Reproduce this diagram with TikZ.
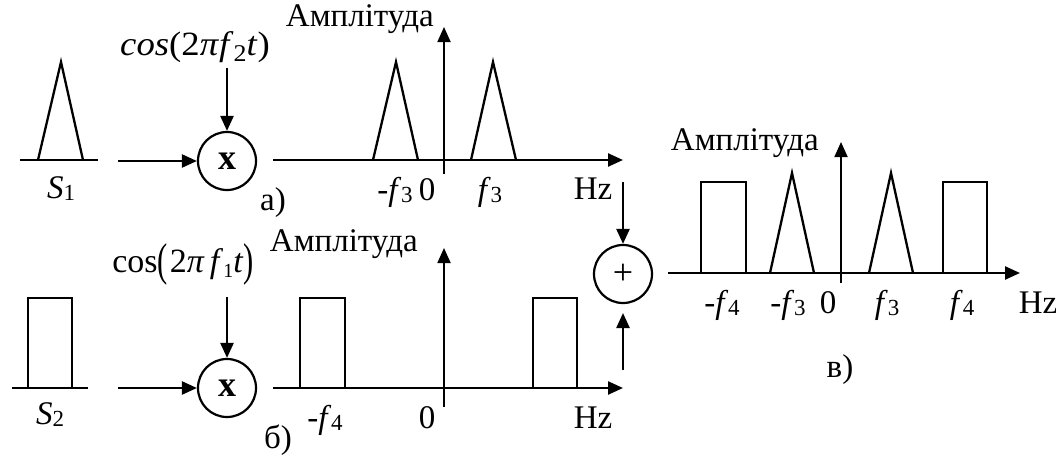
\documentclass[tikz,border=0pt]{standalone}
\usepackage{fontspec}
\setmainfont{Liberation Serif}
\usetikzlibrary{arrows.meta}
\newcommand{\fsub}[2]{\textit{#1}\raisebox{-2pt}{\fontsize{23}{23}\selectfont #2}}
\newcommand{\tallpar}[1]{\raisebox{-3pt}{\scalebox{0.9}[1.35]{#1}}}
\begin{document}
\begin{tikzpicture}[x=1pt,y=-1pt,
  vaxis/.style={line width=1.8pt},
  arr/.style={line width=2.4pt,-{Triangle[length=15pt,width=13pt]}},
  baseln/.style={line width=1.1pt},
  sig/.style={line width=2.3pt},
  op/.style={draw,circle,line width=2.2pt,minimum size=58pt,inner sep=0pt,font=\fontsize{36}{36}\selectfont},
  lbl/.style={inner sep=0pt,font=\fontsize{33}{33}\selectfont},
 ]
\useasboundingbox (0,0) rectangle (1056,455);

% ---------------- row a ----------------
\draw[baseln] (20,160) -- (98,160);
\draw[sig] (38,160) -- (61,62) -- (83,160);
\node[lbl,anchor=base] (s1) at (61,198) {\fsub{S}{1}};
\node[op] (m1) at (227,161) {\bfseries x};
\coordinate (in1) at (118,161);
\draw[arr] (in1) -- (m1.west);
\node[lbl,anchor=base,font=\fontsize{34}{34}\selectfont] (c1) at (195,55) {\scalebox{1.08}[1]{\textit{cos}(2\textit{π\kern1pt f}\raisebox{-6pt}{\fontsize{24}{24}\selectfont 2}\textit{t})}};
\coordinate (c1a) at (227,68);
\draw[arr] (c1a) -- (m1.north);
\node[lbl,anchor=base] (la) at (273,210) {а)};
\coordinate (a0) at (273,160);
\coordinate (a1) at (623,160);
\draw[arr] (a0) -- (a1);
\coordinate (av0) at (444,174);
\coordinate (av1) at (444,27);
\draw[vaxis,-{Triangle[length=15pt,width=13pt]}] (av0) -- (av1);
\node[lbl,anchor=base east] (ampa) at (434,27) {Амплітуда};
\draw[sig] (373,160) -- (396,62) -- (418,160);
\draw[sig] (471,160) -- (493,62) -- (516,160);
\node[lbl,anchor=base] (fa1) at (395,200) {-\fsub{f}{3}};
\node[lbl,anchor=base] (fa2) at (427,200) {0};
\node[lbl,anchor=base] (fa3) at (490,200) {\fsub{f}{3}};
\node[lbl,anchor=base] (fa4) at (593,199) {Hz};

% ---------------- row b ----------------
\draw[baseln] (12,388) -- (88,388);
\draw[sig] (28,388) -- (28,298) -- (72,298) -- (72,388);
\node[lbl,anchor=base] (s2) at (50,424) {\fsub{S}{2}};
\node[op] (m2) at (227,388) {\bfseries x};
\coordinate (in2) at (118,388);
\draw[arr] (in2) -- (m2.west);
\node[lbl,anchor=base,font=\fontsize{34}{34}\selectfont] (c2) at (183,272) {cos\tallpar{(}\kern2pt2\textit{π\kern6pt f}\raisebox{-5pt}{\fontsize{20}{20}\selectfont 1}\textit{t}\tallpar{)}};
\coordinate (c2a) at (227,297);
\draw[arr] (c2a) -- (m2.north);
\node[lbl,anchor=base] (lb) at (278,448) {б)};
\coordinate (b0) at (273,388);
\coordinate (b1) at (623,388);
\draw[arr] (b0) -- (b1);
\coordinate (bv0) at (444,407);
\coordinate (bv1) at (444,248);
\draw[vaxis,-{Triangle[length=15pt,width=13pt]}] (bv0) -- (bv1);
\node[lbl,anchor=base east] (ampb) at (418,251) {Амплітуда};
\draw[sig] (300,388) -- (300,298) -- (345,298) -- (345,388);
\draw[sig] (533,388) -- (533,298) -- (577,298) -- (577,388);
\node[lbl,anchor=base] (fb1) at (325,428) {-\fsub{f}{4}};
\node[lbl,anchor=base] (fb2) at (427,428) {0};
\node[lbl,anchor=base] (fb3) at (593,428) {Hz};

% ---------------- sum ----------------
\node[op] (p) at (623,274) {+};
\coordinate (pin1) at (623,182);
\draw[arr] (pin1) -- (p.north);
\coordinate (pin2) at (623,370);
\coordinate (pin2t) at (623,313);
\draw[arr] (pin2) -- (pin2t);

% ---------------- row c ----------------
\coordinate (c0) at (668,273);
\coordinate (c1e) at (1020,273);
\draw[arr] (c0) -- (c1e);
\coordinate (cv0) at (841,283);
\coordinate (cv1) at (841,142);
\draw[vaxis,-{Triangle[length=15pt,width=13pt]}] (cv0) -- (cv1);
\node[lbl,anchor=base east] (ampc) at (819,150) {Амплітуда};
\draw[sig] (701,273) -- (701,182) -- (746,182) -- (746,273);
\draw[sig] (770,273) -- (792,173) -- (814,273);
\draw[sig] (869,273) -- (891,173) -- (913,273);
\draw[sig] (943,273) -- (943,182) -- (987,182) -- (987,273);
\node[lbl,anchor=base] (fc1) at (722,313) {-\fsub{f}{4}};
\node[lbl,anchor=base] (fc2) at (788,313) {-\fsub{f}{3}};
\node[lbl,anchor=base] (fc3) at (828,313) {0};
\node[lbl,anchor=base] (fc4) at (887,313) {\fsub{f}{3}};
\node[lbl,anchor=base] (fc5) at (962,313) {\fsub{f}{4}};
\node[lbl,anchor=base] (fc6) at (1038,313) {Hz};
\node[lbl,anchor=base] (lc) at (840,377) {в)};
\end{tikzpicture}
\end{document}
